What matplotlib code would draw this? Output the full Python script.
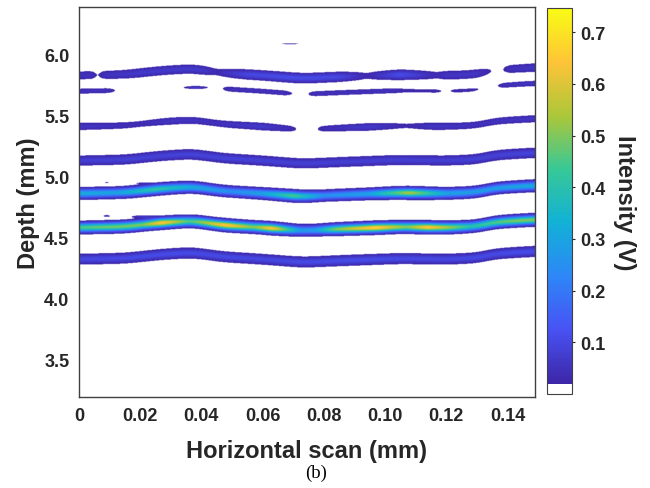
import numpy as np
import matplotlib
matplotlib.use("Agg")
import matplotlib.pyplot as plt
from matplotlib.colors import ListedColormap, LinearSegmentedColormap, Normalize
from matplotlib.cm import ScalarMappable

# ---------------- data ----------------
x_range = [0.0, 0.149]          # horizontal scan (mm)
y_range = [3.19, 6.39]          # depth (mm)
x_ticks = [0, 0.02, 0.04, 0.06, 0.08, 0.10, 0.12, 0.14]
x_ticklabels = ["0", "0.02", "0.04", "0.06", "0.08", "0.10", "0.12", "0.14"]
y_ticks = [3.5, 4.0, 4.5, 5.0, 5.5, 6.0]
cbar_ticks = [0.1, 0.2, 0.3, 0.4, 0.5, 0.6, 0.7]
cbar_min, cbar_threshold, cbar_max = 0.0, 0.02, 0.746

# shared depth wiggle of the layers along the scan (mm, upward positive)
wiggle_x = [0, 0.015, 0.027, 0.037, 0.047, 0.06, 0.073, 0.085, 0.105, 0.12, 0.130, 0.136, 0.149]
wiggle_off = [0, 0.008, 0.04, 0.055, 0.02, 0.0, -0.025, -0.012, 0.006, 0.0, 0.01, 0.045, 0.065]

# layer depths (at x = 0) and thickness
band_depth = [4.32, 4.58, 4.86, 5.13, 5.41, 5.70, 5.83]
band_sigma = [0.025, 0.023, 0.023, 0.025, 0.02, 0.015, 0.024]

# peak intensity along x for every layer (V)
b1_x = [0, 0.03, 0.06, 0.09, 0.12, 0.149]
b1_amp = [0.10, 0.11, 0.10, 0.11, 0.10, 0.11]
b2_x = [0, 0.006, 0.021, 0.027, 0.036, 0.048, 0.057, 0.063, 0.072, 0.077, 0.084,
        0.097, 0.107, 0.114, 0.128, 0.143, 0.149]
b2_amp = [0.45, 0.48, 0.50, 0.66, 0.45, 0.66, 0.50, 0.65, 0.28, 0.28, 0.50,
          0.68, 0.50, 0.66, 0.40, 0.50, 0.50]
b3_x = [0, 0.012, 0.025, 0.037, 0.05, 0.06, 0.07, 0.08, 0.095, 0.108, 0.12, 0.135, 0.149]
b3_amp = [0.32, 0.30, 0.42, 0.32, 0.25, 0.30, 0.45, 0.25, 0.30, 0.55, 0.30, 0.28, 0.32]
b4_x = [0, 0.04, 0.08, 0.12, 0.149]
b4_amp = [0.08, 0.09, 0.08, 0.08, 0.09]
b5_x = [0, 0.01, 0.02, 0.03, 0.045, 0.06, 0.069, 0.072, 0.077, 0.08, 0.095, 0.106,
        0.108, 0.115, 0.13, 0.149]
b5_amp = [0.06, 0.05, 0.04, 0.06, 0.05, 0.07, 0.04, 0.01, 0.01, 0.04, 0.07, 0.03,
          0.03, 0.06, 0.05, 0.06]
b6_x = [0, 0.009, 0.013, 0.046, 0.049, 0.067, 0.071, 0.074, 0.077, 0.103, 0.107,
        0.117, 0.12, 0.123, 0.129, 0.133, 0.136, 0.139, 0.149]
b6_amp = [0.05, 0.05, 0.005, 0.005, 0.05, 0.05, 0.005, 0.005, 0.05, 0.05, 0.03,
          0.03, 0.01, 0.03, 0.03, 0.005, 0.005, 0.05, 0.06]
b7_x = [0, 0.004, 0.006, 0.008, 0.02, 0.04, 0.045, 0.055, 0.07, 0.085, 0.094,
        0.105, 0.117, 0.12, 0.13, 0.136, 0.138, 0.141, 0.149]
b7_amp = [0.05, 0.05, 0.01, 0.05, 0.07, 0.07, 0.035, 0.10, 0.11, 0.10, 0.03,
          0.11, 0.035, 0.06, 0.06, 0.01, 0.01, 0.05, 0.06]
band_x = [b1_x, b2_x, b3_x, b4_x, b5_x, b6_x, b7_x]
band_amp = [b1_amp, b2_amp, b3_amp, b4_amp, b5_amp, b6_amp, b7_amp]

# isolated small spots
spot_x = [0.069, 0.009, 0.021, 0.009, 0.021, 0.038]
spot_depth = [6.09, 4.675, 4.67, 4.95, 4.945, 5.73]
spot_amp = [0.03, 0.045, 0.06, 0.03, 0.03, 0.06]
spot_wx = [0.003, 0.0008, 0.0025, 0.0006, 0.002, 0.0025]
spot_wy = [0.004, 0.006, 0.007, 0.004, 0.004, 0.008]

# ---------------- intensity map ----------------
xs = np.linspace(x_range[0], x_range[1], 700)
ys = np.linspace(y_range[0], y_range[1], 900)
X, Y = np.meshgrid(xs, ys)


def smooth(v, w=9):
    k = np.exp(-0.5 * (np.arange(-3 * w, 3 * w + 1) / w) ** 2)
    k /= k.sum()
    vp = np.pad(v, 3 * w, mode='edge')
    return np.convolve(vp, k, mode='valid')


off = smooth(np.interp(xs, wiggle_x, wiggle_off), 12)
I = np.zeros_like(X)
for d, s, bx, ba in zip(band_depth, band_sigma, band_x, band_amp):
    amp = smooth(np.interp(xs, bx, ba), 3)
    c = d + off
    I += amp[None, :] * np.exp(-0.5 * ((Y - c[None, :]) / s) ** 2)
for sx, sd, sa, wx, wy in zip(spot_x, spot_depth, spot_amp, spot_wx, spot_wy):
    I += sa * np.exp(-0.5 * (((X - sx) / wx) ** 2 + ((Y - sd) / wy) ** 2))

# ---------------- colormap: parula with white below threshold ----------------
parula_pts = [(0.2422, 0.1504, 0.6603), (0.2810, 0.3228, 0.9579),
              (0.1786, 0.5289, 0.9682), (0.0689, 0.6948, 0.8394),
              (0.2161, 0.7843, 0.5923), (0.6720, 0.7793, 0.2227),
              (0.9970, 0.7659, 0.2199), (0.9769, 0.9839, 0.0805)]
parula = LinearSegmentedColormap.from_list("parula", parula_pts, N=256)
N = 512
k = int(round((cbar_threshold - cbar_min) / (cbar_max - cbar_min) * N))
cols = np.vstack([np.ones((k, 4)), parula(np.linspace(0, 1, N - k))])
cmap = ListedColormap(cols)
norm = Normalize(cbar_min, cbar_max)

# ---------------- figure ----------------
plt.rcParams['font.family'] = ['Liberation Sans', 'DejaVu Sans']
plt.rcParams['font.weight'] = 'bold'
fig = plt.figure(figsize=(6.5, 4.89), dpi=100)
ax = fig.add_axes([0.1215, 0.186, 0.7015, 0.7975])
ax.imshow(I, extent=[x_range[0], x_range[1], y_range[0], y_range[1]], origin='lower',
          aspect='auto', cmap=cmap, norm=norm, interpolation='bilinear')
ax.set_xlim(x_range)
ax.set_ylim(y_range)
ax.set_xticks(x_ticks)
ax.set_xticklabels(x_ticklabels)
ax.set_yticks(y_ticks)
ax.set_yticklabels([f"{v:.1f}" for v in y_ticks])
ax.tick_params(length=0, labelsize=13, colors='#262626', pad=7)
for sp in ax.spines.values():
    sp.set_color('#404040')
    sp.set_linewidth(1.0)
ax.set_xlabel("Horizontal scan (mm)", fontsize=17, fontweight='bold', color='#262626', labelpad=11)
ax.set_ylabel("Depth (mm)", fontsize=17, fontweight='bold', color='#262626', labelpad=3)

cax = fig.add_axes([0.8415, 0.192, 0.0385, 0.789])
sm = ScalarMappable(norm=norm, cmap=cmap)
cb = fig.colorbar(sm, cax=cax)
cb.set_ticks(cbar_ticks)
cb.set_ticklabels([f"{v:.1f}" for v in cbar_ticks])
cb.ax.tick_params(length=2, width=0.8, labelsize=13, colors='#262626', pad=4)
cb.outline.set_edgecolor('#404040')
cb.outline.set_linewidth(0.8)
cb.set_label("Intensity (V)", rotation=270, fontsize=17, fontweight='bold',
             color='#262626', labelpad=22)

fig.text(0.487, 0.032, "(b)", family=['Liberation Serif', 'DejaVu Serif'],
         fontweight='normal', fontsize=13.5, ha='center', va='center', color='black')

fig.savefig("out.png", dpi=100)
